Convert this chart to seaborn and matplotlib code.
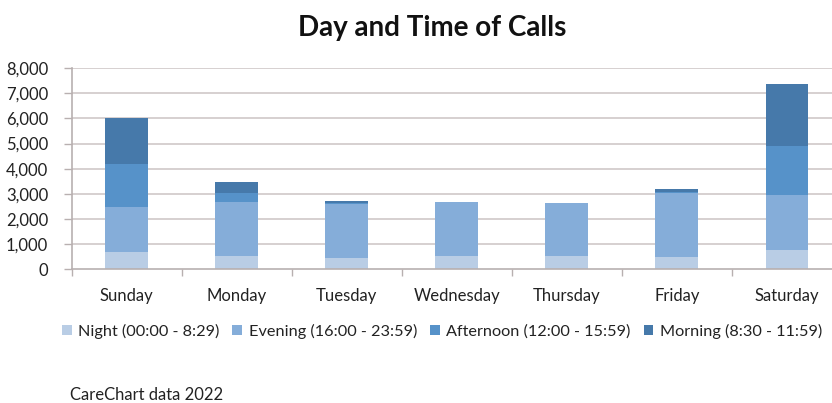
import matplotlib
matplotlib.use("Agg")
import matplotlib.pyplot as plt
import seaborn as sns
import numpy as np

# ---- data ----
days = ["Sunday", "Monday", "Tuesday", "Wednesday", "Thursday", "Friday", "Saturday"]
night = [670, 520, 430, 500, 500, 470, 760]
evening = [1790, 2170, 2160, 2180, 2130, 2560, 2200]
afternoon = [1710, 330, 30, 0, 0, 50, 1960]
morning = [1840, 440, 80, 0, 0, 100, 2440]

series_names = ["Night (00:00 - 8:29)", "Evening (16:00 - 23:59)",
                "Afternoon (12:00 - 15:59)", "Morning (8:30 - 11:59)"]
series_vals = [night, evening, afternoon, morning]
colors = ["#b9cde5", "#85add9", "#5692c9", "#4679aa"]

sns.set_theme(style="white")
plt.rcParams["font.family"] = ["Lato", "DejaVu Sans"]

fig = plt.figure(figsize=(8.32, 4.03), dpi=100)
ax = fig.add_axes([71.7 / 832, 0.3325, (842 - 71.7) / 832, 0.498])

grid_col = "#cfc8c8"
for v in range(1000, 9000, 1000):
    ax.axhline(v, color=grid_col, lw=1.2, zorder=0)

bottom = np.zeros(len(days))
for name, vals, col in zip(series_names, series_vals, colors):
    sns.barplot(x=days, y=vals, bottom=bottom, color=col, width=0.39,
                label=name, ax=ax, saturation=1, linewidth=0, zorder=2)
    bottom += np.array(vals)

ax.set_xlim(-0.5, 6.5)
ax.set_ylim(0, 8000)
ax.set_yticks(range(0, 8001, 1000))
ax.set_yticklabels([f"{v:,}" for v in range(0, 8001, 1000)])
ax.set_xticks(np.arange(-0.5, 7, 1), minor=True)

for side in ["top", "right"]:
    ax.spines[side].set_visible(False)
for side in ["left", "bottom"]:
    ax.spines[side].set_color("#b8b0b0")
    ax.spines[side].set_linewidth(1.2)

ax.tick_params(axis="y", left=True, length=6, width=1, color="#b8b0b0",
               labelsize=12, labelcolor="#222222", pad=11)
ax.tick_params(axis="x", which="major", length=0, labelsize=12,
               labelcolor="#222222", pad=14)
ax.tick_params(axis="x", which="minor", bottom=True, length=5, width=1,
               color="#b8b0b0")
ax.set_xlabel("")
ax.set_ylabel("")

ax.legend(loc="center", bbox_to_anchor=(442 / 832, 1 - 331 / 403),
          bbox_transform=fig.transFigure, ncol=4, frameon=False,
          fontsize=11.7, handlelength=0.6, handleheight=0.6,
          handletextpad=0.4, columnspacing=0.8, labelcolor="#222222")

fig.text(432 / 832, 1 - 28 / 403, "Day and Time of Calls", ha="center",
         va="center", fontsize=20, fontweight="bold", color="#111111")
fig.text(70 / 832, 1 - 395 / 403, "CareChart data 2022", ha="left",
         va="center", fontsize=12, color="#222222")

fig.savefig("out.png", dpi=100)
